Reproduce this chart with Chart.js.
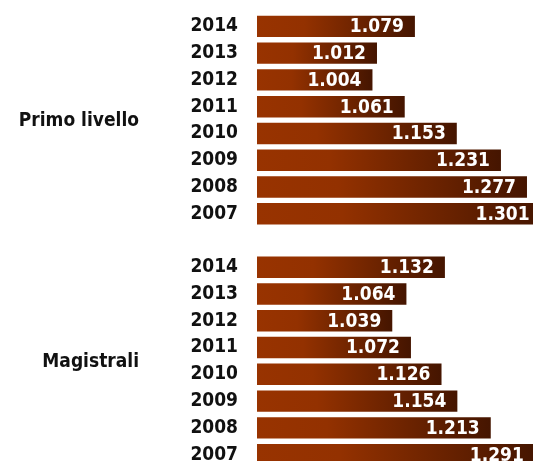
<!DOCTYPE html>
<html>
<head>
<meta charset="utf-8">
<script src="https://cdn.jsdelivr.net/npm/chart.js@4/dist/chart.umd.min.js"></script>
<style>
html,body{margin:0;padding:0;background:#fff;overflow:hidden;width:533px;height:461px;}
#wrap{position:absolute;left:0;top:0;width:540px;height:468px;}
</style>
</head>
<body>
<div id="wrap"><canvas id="c"></canvas></div>
<script>
const years = ['2014','2013','2012','2011','2010','2009','2008','2007'];
const groups = ['Primo livello', 'Magistrali'];
const primoLivello = [1.079, 1.012, 1.004, 1.061, 1.153, 1.231, 1.277, 1.301];
const magistrali = [1.132, 1.064, 1.039, 1.072, 1.126, 1.154, 1.213, 1.291];

const labels = [...years, '', ...years];
const values = [...primoLivello, null, ...magistrali];
const FONT = '"DejaVu Sans Condensed", "Liberation Sans Narrow", sans-serif';

function fmt(v){ return v.toFixed(3); }

const gradFill = (ctx) => {
  const c = ctx.chart;
  const xs = c.scales && c.scales.x;
  if (ctx.type !== 'data' || !xs || ctx.parsed == null) return '#933100';
  const x0 = xs.getPixelForValue(xs.min);
  const x1 = xs.getPixelForValue(ctx.parsed.x);
  if (!isFinite(x0) || !isFinite(x1) || x1 <= x0) return '#933100';
  const g = c.ctx.createLinearGradient(x0, 0, x1, 0);
  g.addColorStop(0, '#983300');
  g.addColorStop(0.3, '#933100');
  g.addColorStop(1, '#451500');
  return g;
};

const extras = {
  id: 'extras',
  afterDatasetsDraw(chart) {
    const ctx = chart.ctx;
    const meta = chart.getDatasetMeta(0);
    ctx.save();
    ctx.font = 'bold 19px ' + FONT;
    ctx.fillStyle = '#ffffff';
    ctx.textAlign = 'right';
    ctx.textBaseline = 'middle';
    meta.data.forEach((bar, i) => {
      const v = values[i];
      if (v == null) return;
      ctx.fillText(fmt(v), bar.x - 11, bar.y + 1);
    });
    ctx.fillStyle = '#111111';
    const ys = chart.scales.y;
    const ya = (ys.getPixelForValue(0) + ys.getPixelForValue(7)) / 2;
    const yb = (ys.getPixelForValue(9) + ys.getPixelForValue(16)) / 2;
    ctx.fillText(groups[0], 139, ya + 1);
    ctx.fillText(groups[1], 139, yb + 1);
    ctx.restore();
  }
};

new Chart(document.getElementById('c'), {
  type: 'bar',
  data: {
    labels: labels,
    datasets: [{
      data: values,
      backgroundColor: gradFill,
      borderWidth: 0,
      categoryPercentage: 1,
      barPercentage: 0.8
    }]
  },
  options: {
    indexAxis: 'y',
    responsive: true,
    maintainAspectRatio: false,
    animation: false,
    layout: { padding: { top: 13, bottom: 0, left: 0, right: 0 } },
    plugins: { legend: { display: false }, tooltip: { enabled: false } },
    scales: {
      x: { display: false, min: 0.8, max: 1.3 },
      y: {
        grid: { display: false, drawTicks: false },
        border: { display: false },
        ticks: {
          autoSkip: false,
          padding: 19,
          color: '#111111',
          font: { family: FONT, size: 19, weight: 'bold' }
        },
        afterFit(scale) { scale.width = 257; scale.paddingTop = 0; scale.paddingBottom = 0; }
      }
    }
  },
  plugins: [extras]
});
</script>
</body>
</html>
